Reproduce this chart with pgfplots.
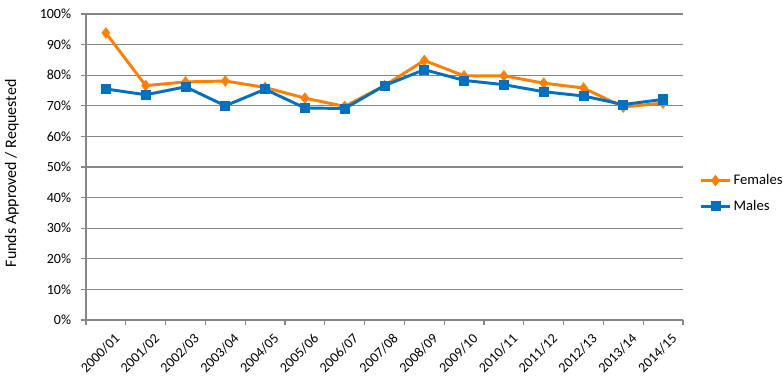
\documentclass[border=0pt]{standalone}
\usepackage{pgfplots}
\pgfplotsset{compat=1.18}
\usepackage{fontspec}
\setmainfont{Carlito}
\definecolor{forange}{HTML}{FF8000}
\definecolor{mblue}{HTML}{0070C0}
\definecolor{gridgray}{HTML}{868686}
\begin{document}
\begin{tikzpicture}
\begin{axis}[
  at={(0,0)}, anchor=south west,
  scale only axis, width=447.75pt, height=229.5pt,
  xmin=-0.5, xmax=14.5, ymin=0, ymax=100,
  axis x line*=bottom, axis y line*=left,
  axis line style={gridgray, line width=0.9pt},
  xtick={0,...,14},
  xticklabels={2000/01,2001/02,2002/03,2003/04,2004/05,2005/06,2006/07,2007/08,2008/09,2009/10,2010/11,2011/12,2012/13,2013/14,2014/15},
  minor xtick={-0.5,0.5,...,14.5},
  x tick label style={rotate=45, anchor=north east, font=\fontsize{10.5}{12}\selectfont, inner sep=0.5pt, yshift=-7pt, xshift=1pt},
  major x tick style={draw=none},
  minor x tick style={gridgray, line width=0.9pt},
  minor tick length=4pt,
  ytick={0,10,...,100},
  yticklabel={\pgfmathprintnumber{\tick}\%},
  y tick label style={font=\fontsize{10.5}{12}\selectfont, inner sep=1pt, xshift=-6pt},
  y tick style={gridgray, line width=0.9pt},
  major tick length=4pt,
  tick align=outside,
  ymajorgrids, major grid style={gridgray, line width=0.9pt},
  /pgf/number format/assume math mode=true,
  ylabel={Funds Approved / Requested},
  ylabel style={font=\fontsize{12}{14}\selectfont, at={(axis description cs:-0.124,0.479)}, anchor=center, rotate=0},
  legend style={at={(axis description cs:1.028,0.414)}, anchor=west, draw=none, fill=none,
    font=\fontsize{11}{13}\selectfont, row sep=6pt, inner sep=0pt},
  legend cell align=left,
  legend image code/.code={\draw[#1, mark repeat=2, mark phase=2] plot coordinates {(0cm,0cm)(0.37cm,0cm)(0.74cm,0cm)};},
  clip=false,
]
\addplot[forange, line width=2.2pt, mark=diamond*, mark size=4pt, mark options={solid, fill=forange, line width=0.5pt}]
  coordinates {(0,93.8)(1,76.6)(2,77.8)(3,78.1)(4,76.0)(5,72.5)(6,69.8)(7,76.6)(8,84.8)(9,79.8)(10,79.8)(11,77.4)(12,75.8)(13,69.6)(14,70.9)};
\addlegendentry{Females}
\addplot[mblue, line width=2.2pt, mark=square*, mark size=3.4pt, mark options={solid, fill=mblue, line width=0.5pt}]
  coordinates {(0,75.5)(1,73.6)(2,76.2)(3,70.0)(4,75.4)(5,69.3)(6,69.1)(7,76.6)(8,81.8)(9,78.3)(10,76.9)(11,74.6)(12,73.2)(13,70.4)(14,72.1)};
\addlegendentry{Males}
\end{axis}
\pgfresetboundingbox
\useasboundingbox (-64.5pt,-48pt) rectangle (522.75pt,240pt);
\end{tikzpicture}
\end{document}
